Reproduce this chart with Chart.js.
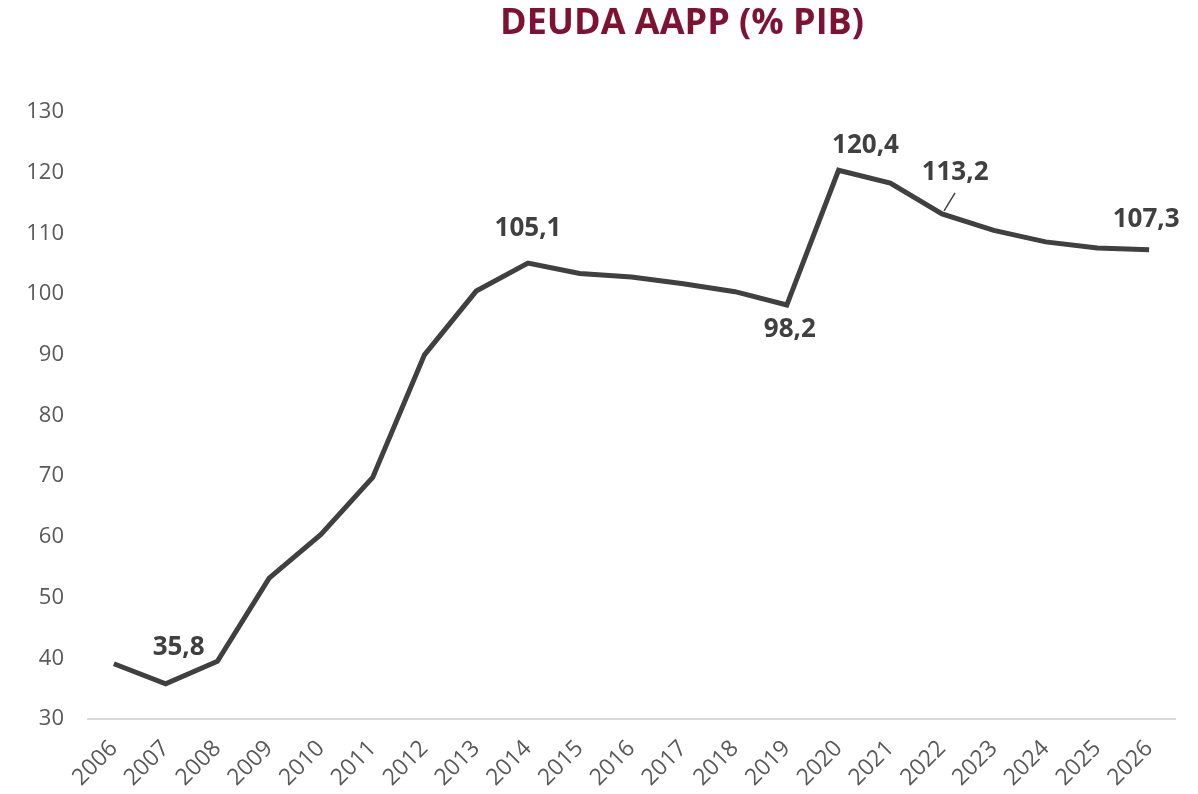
<!DOCTYPE html>
<html>
<head>
<meta charset="utf-8">
<script src="https://cdn.jsdelivr.net/npm/chart.js@4.4.0/dist/chart.umd.min.js"></script>
<style>
  html, body { margin: 0; padding: 0; background: #ffffff; }
  #wrap { width: 1198px; height: 794px; position: relative; }
</style>
</head>
<body>
<div id="wrap"><canvas id="c" width="1198" height="794"></canvas></div>
<script>
const years = ["2006","2007","2008","2009","2010","2011","2012","2013","2014","2015","2016","2017","2018","2019","2020","2021","2022","2023","2024","2025","2026"];
const debt = [39.1, 35.8, 39.5, 53.2, 60.4, 69.8, 90.0, 100.5, 105.1, 103.4, 102.8, 101.7, 100.4, 98.2, 120.4, 118.3, 113.2, 110.5, 108.6, 107.6, 107.3];
const yTicks = [30, 40, 50, 60, 70, 80, 90, 100, 110, 120, 130];
const labelledIdx = [1, 8, 13, 14, 16, 20];
const titleText = "DEUDA AAPP (% PIB)";

// label placement (pixel offsets from point), kept separate from data
const labelOffsets = {1: [13, -36], 8: [0, -35], 13: [3, 25], 14: [27, -25], 16: [13, -41], 20: [-3, -30]};
const leaderIdx = 16;

const fmt = v => v.toFixed(1).replace('.', ',');

const labelPlugin = {
  id: 'labels',
  afterDatasetsDraw(chart) {
    const ctx = chart.ctx;
    const meta = chart.getDatasetMeta(0);
    ctx.save();
    ctx.font = 'bold 26px "Open Sans"';
    ctx.fillStyle = '#404040';
    ctx.textAlign = 'center';
    ctx.textBaseline = 'middle';
    labelledIdx.forEach(i => {
      const p = meta.data[i];
      const off = labelOffsets[i];
      ctx.fillText(fmt(debt[i]), p.x + off[0], p.y + off[1]);
      if (i === leaderIdx) {
        ctx.strokeStyle = '#404040';
        ctx.lineWidth = 1.5;
        ctx.beginPath();
        ctx.moveTo(p.x + 2, p.y - 3);
        ctx.lineTo(p.x + 13, p.y - 21);
        ctx.stroke();
      }
    });
    ctx.restore();
  },
  afterDraw(chart) {
    const ctx = chart.ctx;
    ctx.save();
    ctx.font = 'bold 36px "Open Sans"';
    ctx.fillStyle = '#7F1232';
    ctx.textAlign = 'center';
    ctx.textBaseline = 'middle';
    ctx.fillText(titleText, 682, 24);
    ctx.restore();
  }
};

new Chart(document.getElementById('c'), {
  type: 'line',
  data: {
    labels: years,
    datasets: [{
      data: debt,
      borderColor: '#404040',
      borderWidth: 5,
      pointRadius: 0,
      tension: 0,
      fill: false,
      borderJoinStyle: 'miter'
    }]
  },
  options: {
    responsive: false,
    animation: false,
    devicePixelRatio: 1,
    layout: { padding: { top: 112, right: 23, left: 0, bottom: 0 } },
    plugins: { legend: { display: false }, tooltip: { enabled: false }, title: { display: false } },
    scales: {
      x: {
        offset: true,
        grid: { display: false, drawTicks: false },
        border: { display: true, color: '#D9D9D9', width: 2 },
        ticks: {
          color: '#595959',
          font: { family: '"Open Sans"', size: 23 },
          minRotation: 45, maxRotation: 45,
          padding: 16,
          autoSkip: false
        },
        afterFit(scale) { scale.height = 75; }
      },
      y: {
        min: 30, max: 130,
        afterBuildTicks(scale) { scale.ticks = yTicks.map(v => ({ value: v })); },
        grid: { display: false, drawTicks: false },
        border: { display: false },
        ticks: {
          color: '#595959',
          font: { family: '"Open Sans"', size: 22 },
          padding: 24
        },
        afterFit(scale) { scale.width = 88; }
      }
    }
  },
  plugins: [labelPlugin]
});
</script>
</body>
</html>
